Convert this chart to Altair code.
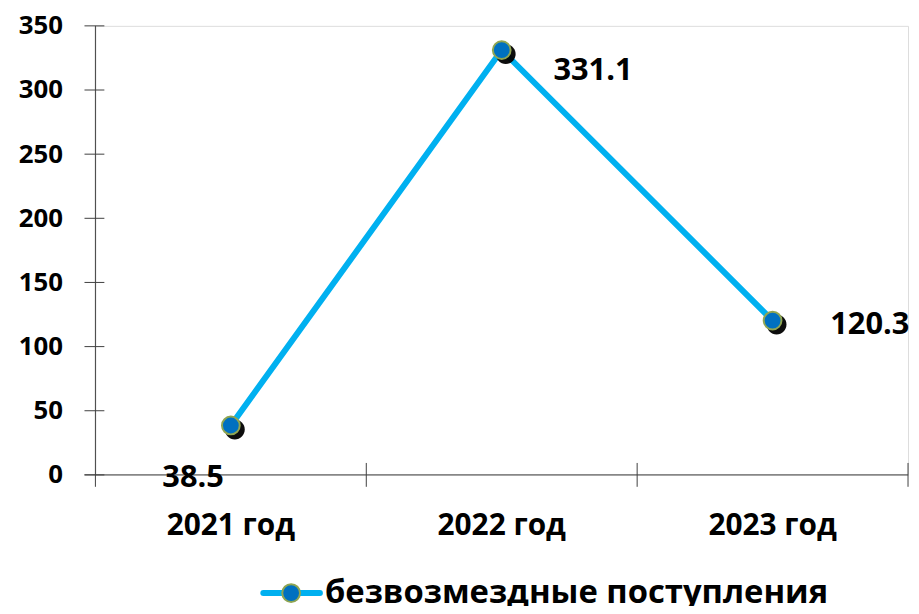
import altair as alt
import pandas as pd

categories = ["2021 год", "2022 год", "2023 год"]
values = [38.5, 331.1, 120.3]
value_labels = ["38.5", "331.1", "120.3"]
y_ticks = [0, 50, 100, 150, 200, 250, 300, 350]
series_name = ["безвозмездные поступления"]

W, H = 818, 452
FONT = "Open Sans"
LINE_COLOR = "#00B0F0"
MARKER_FILL = "#0070C0"
MARKER_STROKE = "#8FA552"
AXIS_COLOR = "#404040"

df = pd.DataFrame({"cat": categories, "val": values, "lab": value_labels})
ticks_df = pd.DataFrame({"t": y_ticks})
legend_df = pd.DataFrame({"name": series_name})

xscale = alt.Scale(type="band", domain=categories, paddingInner=0, paddingOuter=0)
yscale = alt.Scale(domain=[0, 350], nice=False, zero=True)

x_axis = alt.Axis(
    title=None, labelAngle=0, ticks=False, domain=False, grid=False,
    labelFont=FONT, labelFontSize=30, labelFontWeight="bold", labelColor="black",
    labelPadding=60, labelBaseline="alphabetic",
)
y_axis = alt.Axis(
    title=None, values=y_ticks, ticks=False, domain=False, grid=False,
    labelFont=FONT, labelFontSize=26, labelFontWeight="bold", labelColor="black",
    labelPadding=33, labelBaseline="middle",
)

X = alt.X("cat:N", scale=xscale, sort=categories, axis=x_axis, bandPosition=0.5)
Y = alt.Y("val:Q", scale=yscale, axis=y_axis)

base = alt.Chart(df)

# axis lines drawn as rules
y_axis_line = base.mark_rule(color=AXIS_COLOR, strokeWidth=1).encode(
    x=alt.value(0), y=alt.datum(350, scale=yscale), y2=alt.value(H + 12)
).transform_filter("datum.cat == '2021 год'")
x_axis_line = base.mark_rule(color=AXIS_COLOR, strokeWidth=1).encode(
    x=alt.value(-11), x2=alt.value(W), y=alt.datum(0, scale=yscale)
).transform_filter("datum.cat == '2021 год'")
y_tick_rules = alt.Chart(ticks_df).mark_rule(color=AXIS_COLOR, strokeWidth=1).encode(
    y=alt.Y("t:Q", scale=yscale, axis=y_axis), x=alt.value(-11), x2=alt.value(9)
)
x_tick_rules = base.mark_rule(color=AXIS_COLOR, strokeWidth=1).encode(
    x=alt.X("cat:N", scale=xscale, sort=categories, axis=x_axis, bandPosition=1),
    y=alt.value(H - 12), y2=alt.value(H + 12),
)

line = base.mark_line(color=LINE_COLOR, strokeWidth=6).encode(x=X, y=Y)

# shadow: circle shape offset to the lower right (custom symbol path)
SHADOW_PATH = "M 1.4 0.4 A 1 1 0 1 1 -0.6 0.4 A 1 1 0 1 1 1.4 0.4 Z"
shadow = base.mark_point(
    shape=SHADOW_PATH, filled=True, fill="black", stroke=None, opacity=0.95, size=400
).encode(x=X, y=Y)
points = base.mark_circle(
    fill=MARKER_FILL, stroke=MARKER_STROKE, strokeWidth=2, opacity=1, size=320
).encode(x=X, y=Y)

label_offsets = [(-69, 62), (52, 30), (58, 14)]
label_layers = []
for cat, (dx, dy) in zip(categories, label_offsets):
    label_layers.append(
        base.mark_text(
            font=FONT, fontSize=31, fontWeight="bold", color="black",
            align="left", baseline="alphabetic", dx=dx, dy=dy,
        ).encode(x=X, y=Y, text="lab:N").transform_filter(alt.datum.cat == cat)
    )

# legend (manual)
LY = 595 - 24
leg = alt.Chart(legend_df)
leg_line = leg.mark_rule(color=LINE_COLOR, strokeWidth=6, strokeCap="round").encode(
    x=alt.value(265 - 96), x2=alt.value(322 - 96), y=alt.value(LY)
)
leg_point = leg.mark_circle(
    fill=MARKER_FILL, stroke=MARKER_STROKE, strokeWidth=2, opacity=1, size=320
).encode(x=alt.value(293 - 96), y=alt.value(LY))
leg_text = leg.mark_text(
    font=FONT, fontSize=33, fontWeight="bold", color="black",
    align="left", baseline="alphabetic",
).encode(x=alt.value(327 - 96), y=alt.value(605 - 24), text="name:N")

chart = alt.layer(
    y_axis_line, x_axis_line, y_tick_rules, x_tick_rules,
    line, shadow, points, *label_layers,
    leg_line, leg_point, leg_text,
).properties(
    width=W, height=H,
    autosize=alt.AutoSizeParams(type="none"),
    padding={"left": 88, "top": 16, "right": 3, "bottom": 130},
).configure_view(stroke=None).configure(background="white")

chart.save("out.html", embed_options={"renderer": "svg", "actions": False})
